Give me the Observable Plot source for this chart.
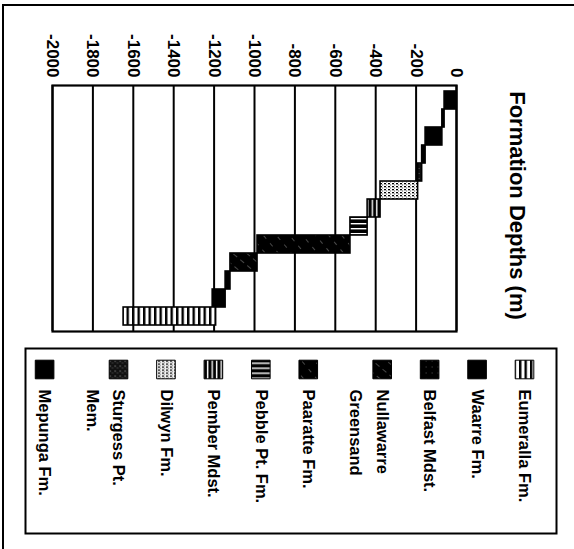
<!DOCTYPE html>
<html><head><meta charset="utf-8">
<script src="https://cdn.jsdelivr.net/npm/d3@7"></script>
<script src="https://cdn.jsdelivr.net/npm/@observablehq/plot@0.6"></script>
<style>
html,body{margin:0;padding:0;background:#fff;}
#wrap{position:relative;width:574px;height:549px;overflow:hidden;background:#fff;}
#chart{position:absolute;left:0;top:0;}
#legend{position:absolute;left:0;top:345px;}
#border{position:absolute;left:2px;top:4px;width:600px;height:600px;border-left:2px solid #000;border-top:2px solid #000;pointer-events:none;}
</style></head><body>
<svg width="0" height="0" style="position:absolute"><defs>
  <pattern id="p-solid" patternUnits="userSpaceOnUse" width="4" height="4"><rect width="4" height="4" fill="#000"/></pattern>
  <pattern id="p-vlines" patternUnits="userSpaceOnUse" width="5.5" height="10"><rect width="5.5" height="10" fill="#fff"/><rect x="0" width="2.4" height="10" fill="#000"/></pattern>
  <pattern id="p-vwhite" patternUnits="userSpaceOnUse" width="4.5" height="10"><rect width="4.5" height="10" fill="#000"/><rect x="2.6" width="1.4" height="10" fill="#fff"/></pattern>
  <pattern id="p-hwhite" patternUnits="userSpaceOnUse" width="10" height="5"><rect width="10" height="5" fill="#000"/><rect y="3" width="10" height="1.4" fill="#fff"/></pattern>
  <pattern id="p-dots" patternUnits="userSpaceOnUse" width="4" height="3"><rect width="4" height="3" fill="#fff"/><rect x="0" y="0" width="2" height="1.3" fill="#000"/><rect x="2" y="1.5" width="1.2" height="1" fill="#555"/></pattern>
  <pattern id="p-hatch" patternUnits="userSpaceOnUse" width="10" height="10" patternTransform="rotate(-40)"><rect width="10" height="10" fill="#000"/><rect x="0" y="0" width="0.7" height="4" fill="#6a6a6a"/></pattern>
  <pattern id="p-hatch2" patternUnits="userSpaceOnUse" width="9" height="9" patternTransform="rotate(-50)"><rect width="9" height="9" fill="#000"/><rect x="0" y="0" width="0.7" height="5" fill="#666"/></pattern>
  <pattern id="p-speck" patternUnits="userSpaceOnUse" width="5" height="5"><rect width="5" height="5" fill="#111"/><rect x="1" y="1" width="1.2" height="1.2" fill="#888"/><rect x="3.5" y="3" width="1" height="1" fill="#666"/></pattern>
  <pattern id="p-dark" patternUnits="userSpaceOnUse" width="6" height="6"><rect width="6" height="6" fill="#000"/><rect x="2" y="3" width="1" height="1" fill="#555"/></pattern>
</defs></svg>
<div id="wrap"><div id="chart"></div><div id="legend"></div><div id="border"></div></div>
<script>
// ---- data ----
const formations = ["Port Campbell Lst.", "Gellibrand Marl", "Clifton Fm.", "Mepunga Fm.", "Sturgess Pt. Mem.", "Dilwyn Fm.", "Pember Mdst.", "Pebble Pt. Fm.", "Paaratte Fm.", "Nullawarre Greensand", "Belfast Mdst.", "Waarre Fm.", "Eumeralla Fm."];
const tops  = [0, -59, -70, -153, -170, -190, -376, -440, -525, -985, -1119, -1143, -1190];
const bases = [-59, -70, -153, -170, -190, -376, -440, -525, -985, -1119, -1143, -1207, -1648];
const tickValues = [-2000, -1800, -1600, -1400, -1200, -1000, -800, -600, -400, -200, 0];
const titleText = "Formation Depths (m)";
const legendLabels = ["Eumeralla Fm.", "Waarre Fm.", "Belfast Mdst.", "Nullawarre Greensand", "Paaratte Fm.", "Pebble Pt. Fm.", "Pember Mdst.", "Dilwyn Fm.", "Sturgess Pt. Mem.", "Mepunga Fm."];

// ---- styles ----
const patternFor = {
  "Port Campbell Lst.": "p-solid", "Gellibrand Marl": "p-solid", "Clifton Fm.": "p-solid",
  "Mepunga Fm.": "p-solid", "Sturgess Pt. Mem.": "p-speck", "Dilwyn Fm.": "p-dots",
  "Pember Mdst.": "p-vwhite", "Pebble Pt. Fm.": "p-hwhite", "Paaratte Fm.": "p-hatch",
  "Nullawarre Greensand": "p-hatch2", "Belfast Mdst.": "p-dark", "Waarre Fm.": "p-solid",
  "Eumeralla Fm.": "p-vlines"
};
const fillOf = name => `url(#${patternFor[name]})`;
const FONT = "'Liberation Sans', Arial, sans-serif";

const rows = formations.map((name, i) => ({name, top: tops[i], base: bases[i]}));

const chart = Plot.plot({
  width: 574, height: 345,
  marginLeft: 52, marginRight: 118, marginTop: 85, marginBottom: 14,
  x: {domain: [-2000, 0], axis: null},
  y: {domain: formations, axis: null, padding: 0},
  color: {type: "identity"},
  style: {fontFamily: FONT, fontWeight: "bold", background: "transparent", color: "black"},
  marks: [
    Plot.ruleX(tickValues, {stroke: "black", strokeWidth: 2}),
    Plot.barX(rows, {x1: "top", x2: "base", y: "name", fill: d => fillOf(d.name), stroke: "black", strokeWidth: 1.6}),
    Plot.frame({stroke: "black", strokeWidth: 2.2}),
    Plot.axisX({anchor: "top", ticks: tickValues, tickSize: 0, tickPadding: 8, tickRotate: 90,
      tickFormat: d => String(d), fontSize: 17, fontWeight: "bold", fill: "black"}),
    Plot.text([titleText], {text: d => d, frameAnchor: "right", rotate: 90, dx: 61, dy: -3,
      fontSize: 22, fontWeight: "bold", textAnchor: "middle", lineAnchor: "middle", fill: "black"})
  ]
});
document.getElementById("chart").appendChild(chart);

// ---- legend ----
function wrap(label, maxChars) {
  const words = label.split(" "); const lines = []; let cur = "";
  for (const w of words) {
    const t = cur ? cur + " " + w : w;
    if (t.length > maxChars && cur) { lines.push(cur); cur = w; } else cur = t;
  }
  if (cur) lines.push(cur);
  return lines;
}
const entryStep = 1.79; // in line units
let slot = 0;
const entries = [], lineRows = [];
legendLabels.forEach(label => {
  const lines = wrap(label, 15);
  entries.push({label, slot});
  lines.forEach((t, j) => lineRows.push({text: t, slot: slot + j}));
  slot += entryStep + (lines.length - 1);
});

const legend = Plot.plot({
  width: 574, height: 204,
  marginLeft: 25, marginRight: 18, marginTop: 3, marginBottom: 16,
  x: {type: "linear", domain: [0, 1], range: [524, 497.5], axis: null},
  y: {axis: null},
  color: {type: "identity"},
  style: {fontFamily: FONT, fontWeight: "bold", background: "transparent", color: "black"},
  marks: [
    Plot.frame({stroke: "black", strokeWidth: 2}),
    Plot.dot(entries, {x: "slot", frameAnchor: "top", dy: 21, symbol: "square", r: 10.5,
      fill: d => fillOf(d.label), stroke: "black", strokeWidth: 1}),
    Plot.text(lineRows, {x: "slot", text: "text", frameAnchor: "top", dy: 41, rotate: 90,
      textAnchor: "start", lineAnchor: "middle", fontSize: 16.5, fontWeight: "bold", fill: "black"})
  ]
});
document.getElementById("legend").appendChild(legend);
</script>
</body></html>
